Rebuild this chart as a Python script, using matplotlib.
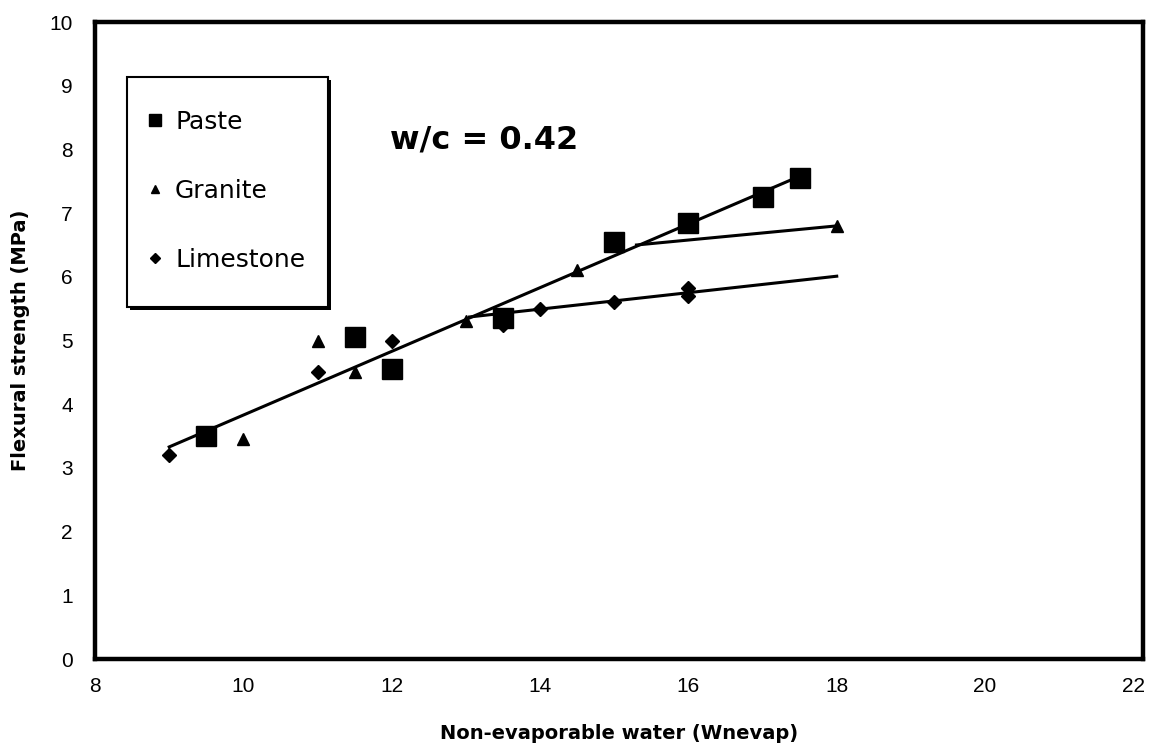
import matplotlib.pyplot as plt
from matplotlib.patches import Rectangle

plt.rcParams['font.family'] = ['Liberation Sans', 'DejaVu Sans']

# Measured flexural strength vs non-evaporable water, w/c = 0.42
paste_x = [9.5, 11.5, 12.0, 13.5, 15.0, 16.0, 17.0, 17.5]
paste_y = [3.5, 5.05, 4.55, 5.35, 6.55, 6.85, 7.25, 7.55]

granite_x = [10.0, 11.0, 11.5, 13.0, 14.5, 18.0]
granite_y = [3.45, 5.0, 4.5, 5.3, 6.1, 6.8]

limestone_x = [9.0, 11.0, 12.0, 13.5, 14.0, 15.0, 16.0, 16.0]
limestone_y = [3.2, 4.5, 5.0, 5.25, 5.5, 5.6, 5.7, 5.82]

# Trend lines (start / end points)
main_fit_x = [9.0, 17.5]
main_fit_y = [3.33, 7.58]
granite_fit_x = [15.3, 18.0]
granite_fit_y = [6.5, 6.8]
limestone_fit_x = [13.05, 18.0]
limestone_fit_y = [5.37, 6.01]

x_ticks = [8, 10, 12, 14, 16, 18, 20, 22]
y_ticks = list(range(0, 11))

fig = plt.figure(figsize=(11.69, 7.5), dpi=100)
ax = fig.add_axes([0.0813, 0.1213, 0.8965, 0.8493])

for fx, fy in [(main_fit_x, main_fit_y), (granite_fit_x, granite_fit_y),
               (limestone_fit_x, limestone_fit_y)]:
    ax.plot(fx, fy, color='black', lw=2.2, zorder=2)

ax.plot(paste_x, paste_y, 's', color='black', ms=14, label='Paste', zorder=3)
ax.plot(granite_x, granite_y, '^', color='black', ms=9, label='Granite', zorder=3)
ax.plot(limestone_x, limestone_y, 'D', color='black', ms=7.5, label='Limestone', zorder=3)

ax.set_xlim(8, 22.13)
ax.set_ylim(0, 10)
ax.set_xticks(x_ticks)
ax.set_yticks(y_ticks)
ax.tick_params(length=0, labelsize=15, pad=13)
ax.tick_params(axis='y', pad=16)
for s in ax.spines.values():
    s.set_linewidth(3.2)

label_font = dict(family='DejaVu Sans', fontsize=14, fontweight='bold')
ax.set_xlabel('Non-evaporable water (Wnevap)', labelpad=20, **label_font)
ax.set_ylabel('Flexural strength (MPa)', labelpad=14, **label_font)

ax.text(11.98, 8.15, 'w/c = 0.42', family='DejaVu Sans', fontsize=23,
        fontweight='bold', va='center', ha='left')

# legend box with a solid drop shadow
box_x, box_y, box_w, box_h = 0.0305, 0.5526, 0.1918, 0.3611
ax.add_patch(Rectangle((box_x + 0.003, box_y - 0.005), box_w, box_h, transform=ax.transAxes,
                       facecolor='black', edgecolor='none', clip_on=False, zorder=4))
ax.add_patch(Rectangle((box_x, box_y), box_w, box_h, transform=ax.transAxes,
                       facecolor='white', edgecolor='black', lw=1.5, clip_on=False, zorder=4))

leg = ax.legend(loc='upper left', bbox_to_anchor=(0.0525, 0.862), frameon=False,
                prop={'family': 'DejaVu Sans', 'size': 18}, markerscale=0.65,
                labelspacing=1.8, borderpad=0, borderaxespad=0,
                handlelength=0.4, handletextpad=0.6)
leg.set_zorder(5)

fig.savefig('out.png', dpi=100)
